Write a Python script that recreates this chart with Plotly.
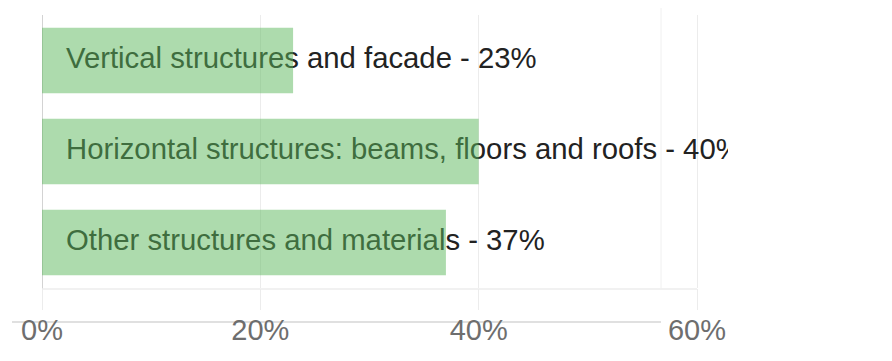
import plotly.graph_objects as go

categories = ["Vertical structures and facade",
              "Horizontal structures: beams, floors and roofs",
              "Other structures and materials"]
values = [23, 40, 37]
tick_vals = [0, 20, 40, 60]
tick_text = ["0%", "20%", "40%", "60%"]

# page has an 8px body margin, so the figure is laid out to compensate
W, H = 884, 353
ML, MR, MT, MB = 34, 164, 7, 73
plot_w = W - ML - MR
plot_h = H - MT - MB
XMAX = 60 * plot_w / 655.0
px = XMAX / plot_w  # data units per pixel
label_x = 24 * px

FONT = "Liberation Sans, Arial, Helvetica, sans-serif"
labels = [f"{c} - {v}%" for c, v in zip(categories, values)]
YR = [-0.5, len(categories) - 0.5]

fig = go.Figure()
# labels drawn beneath bars (base subplot)
fig.add_trace(go.Scatter(
    x=[label_x] * len(categories), y=categories, mode="text",
    text=labels, textposition="middle right",
    textfont=dict(family=FONT, size=29.3, color="#222222"),
    cliponaxis=True, hoverinfo="skip", showlegend=False,
    xaxis="x", yaxis="y"))
# semi-transparent bars on overlay subplot
fig.add_trace(go.Bar(
    x=values, y=categories, orientation="h",
    marker=dict(color="rgba(92,184,92,0.5)", line=dict(width=0)),
    showlegend=False, xaxis="x2", yaxis="y2"))

fig.update_layout(
    width=W, height=H, margin=dict(l=ML, r=MR, t=MT, b=MB),
    paper_bgcolor="white", plot_bgcolor="white",
    bargap=0.28,
    xaxis=dict(range=[0, XMAX], tickvals=tick_vals, ticktext=tick_text,
               showgrid=True, gridcolor="#ececec", gridwidth=1,
               zeroline=False, showline=False,
               ticks="outside", ticklen=21, tickcolor="#ececec",
               ticklabelstandoff=-5,
               tickfont=dict(family=FONT, size=29, color="#6e6e6e")),
    yaxis=dict(categoryorder="array", categoryarray=categories[::-1],
               range=YR,
               showticklabels=False, showgrid=False, zeroline=False,
               showline=False, ticks=""),
    xaxis2=dict(range=[0, XMAX], overlaying="x", visible=False),
    yaxis2=dict(categoryorder="array", categoryarray=categories[::-1],
                range=YR, overlaying="y", visible=False),
    shapes=[
        # left axis line
        dict(type="line", xref="x", yref="paper", x0=0, x1=0,
             y0=-21 / plot_h, y1=1,
             line=dict(color="#c4c4c4", width=1.5), layer="below"),
        # bottom border line
        dict(type="line", xref="x", yref="paper", x0=0, x1=60,
             y0=-1 / plot_h, y1=-1 / plot_h,
             line=dict(color="#ececec", width=1.5), layer="below"),
        # baseline through tick labels
        dict(type="line", xref="paper", yref="paper",
             x0=-30 / plot_w, x1=619 / plot_w,
             y0=-34 / plot_h, y1=-34 / plot_h,
             line=dict(color="#d6d6d6", width=1.5), layer="below"),
        # extra faint vertical line
        dict(type="line", xref="paper", yref="paper",
             x0=619 / plot_w, x1=619 / plot_w,
             y0=-1 / plot_h, y1=1 + MT / plot_h,
             line=dict(color="#f0f0f0", width=1), layer="below"),
    ],
)

fig.write_html("out.html")
